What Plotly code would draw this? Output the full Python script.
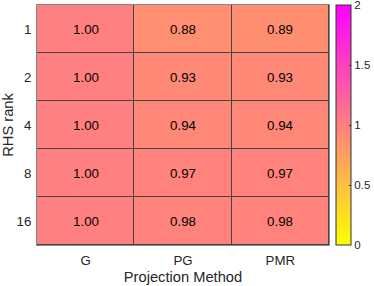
import plotly.graph_objects as go

methods = ["G", "PG", "PMR"]
ranks = ["1", "2", "4", "8", "16"]
values = [
    [1.00, 0.88, 0.89],
    [1.00, 0.93, 0.93],
    [1.00, 0.94, 0.94],
    [1.00, 0.97, 0.97],
    [1.00, 0.98, 0.98],
]
cbar_ticks = [0, 0.5, 1, 1.5, 2]
cbar_ticktext = ["0", "0.5", "1", "1.5", "2"]

FONT = "Liberation Sans, Arial, sans-serif"

fig = go.Figure(
    go.Heatmap(
        z=values,
        x=methods,
        y=ranks,
        zmin=0,
        zmax=2,
        colorscale=[[0, "#FFFF00"], [1, "#FF00FF"]],
        text=[[f"{v:.2f}" for v in row] for row in values],
        texttemplate="%{text}",
        textfont=dict(family=FONT, size=13.3, color="#000000"),
        xgap=1,
        ygap=1,
        colorbar=dict(
            x=1.024,
            xanchor="left",
            xref="paper",
            y=0.5,
            yanchor="middle",
            len=1.0,
            lenmode="fraction",
            thickness=15,
            outlinewidth=1,
            outlinecolor="#333333",
            tickvals=cbar_ticks,
            ticktext=cbar_ticktext,
            ticks="inside",
            ticklen=2,
            tickcolor="#333333",
            ticklabeloverflow="allow",
            tickfont=dict(family=FONT, size=11.5, color="#262626"),
            xpad=0,
            ypad=0,
        ),
    )
)

fig.update_layout(
    width=374,
    height=286,
    margin=dict(l=37, r=45, t=5, b=41, autoexpand=False),
    paper_bgcolor="white",
    plot_bgcolor="#444444",
    font=dict(family=FONT, color="#262626"),
    xaxis=dict(
        title=dict(text="Projection Method", font=dict(size=14.7, color="#262626"), standoff=4),
        tickfont=dict(size=13.3, color="#262626"),
        automargin=False,
        showline=True,
        mirror=True,
        linecolor="#888888",
        linewidth=1,
        ticks="",
        ticklabelstandoff=3,
        showgrid=False,
        zeroline=False,
    ),
    yaxis=dict(
        title=dict(text="RHS rank", font=dict(size=14.7, color="#262626"), standoff=4),
        tickfont=dict(size=13.3, color="#262626"),
        automargin=False,
        autorange="reversed",
        showline=True,
        mirror=True,
        linecolor="#888888",
        linewidth=1,
        ticks="",
        ticklabelstandoff=2,
        showgrid=False,
        zeroline=False,
    ),
)

fig.write_html(
    "out.html",
    config={"displayModeBar": False},
    post_script="document.body.style.margin='0';document.body.style.padding='0';",
)
